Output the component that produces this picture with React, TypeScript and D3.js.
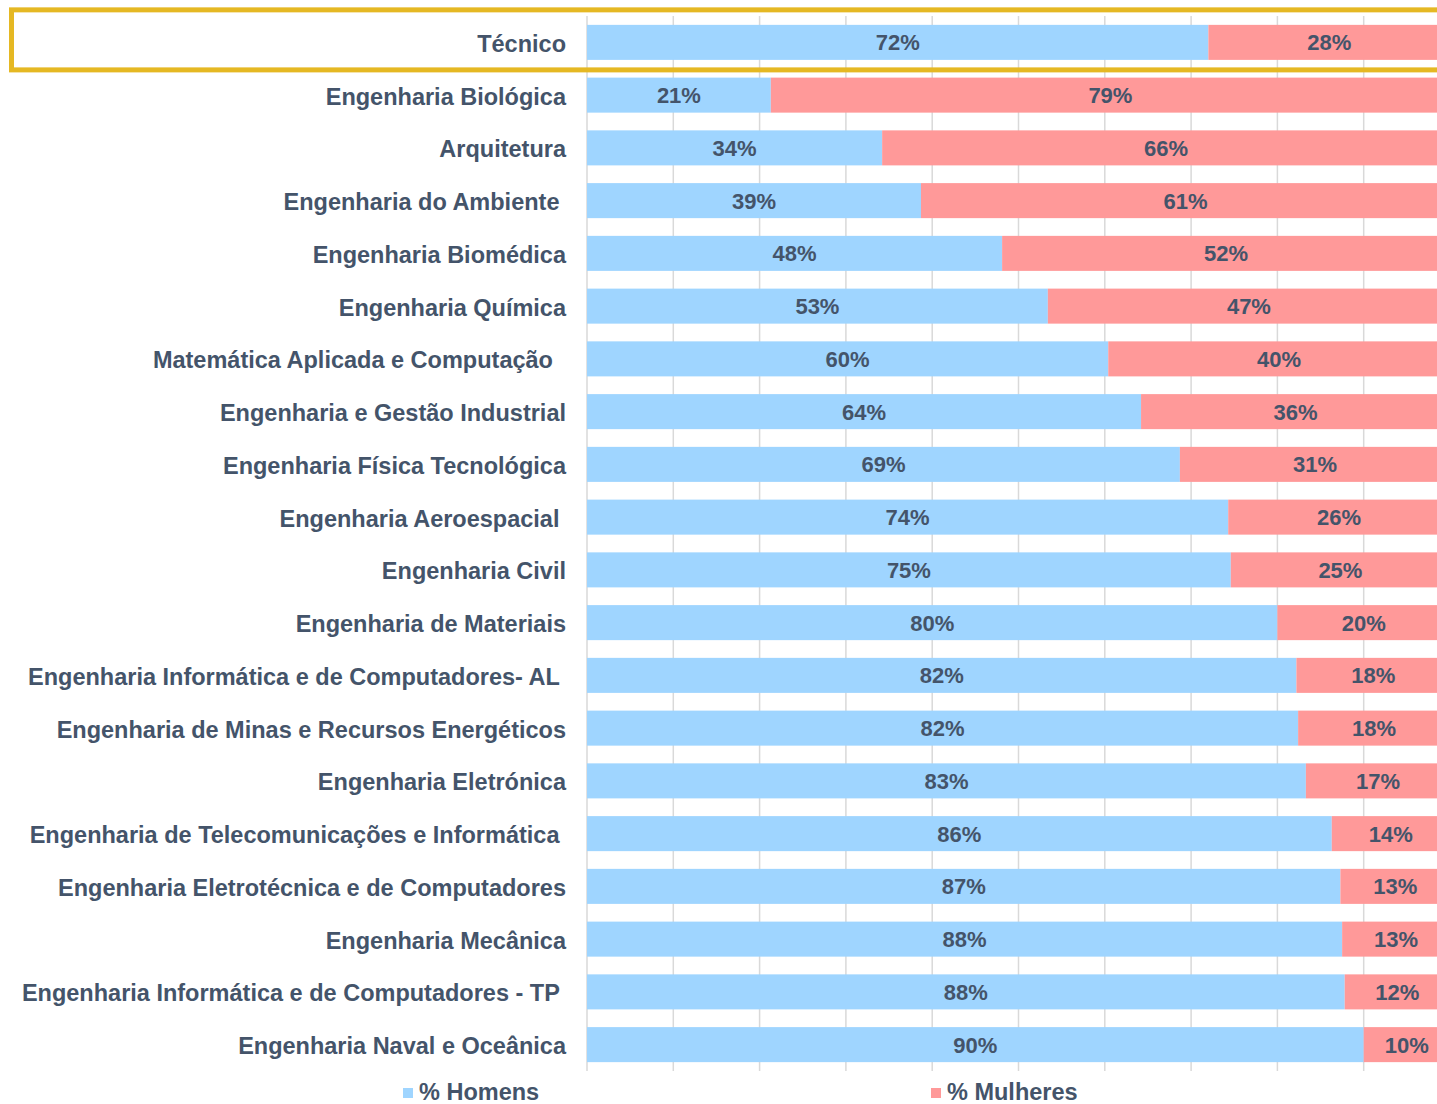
import React from 'react';
import * as d3 from 'd3';

// courses, top to bottom, as they appear on the chart
const cursos = [
  'Técnico',
  'Engenharia Biológica',
  'Arquitetura',
  'Engenharia do Ambiente ',
  'Engenharia Biomédica',
  'Engenharia Química',
  'Matemática Aplicada e Computação  ',
  'Engenharia e Gestão Industrial',
  'Engenharia Física Tecnológica',
  'Engenharia Aeroespacial ',
  'Engenharia Civil',
  'Engenharia de Materiais',
  'Engenharia Informática e de Computadores- AL ',
  'Engenharia de Minas e Recursos Energéticos',
  'Engenharia Eletrónica',
  'Engenharia de Telecomunicações e Informática ',
  'Engenharia Eletrotécnica e de Computadores',
  'Engenharia Mecânica',
  'Engenharia Informática e de Computadores - TP ',
  'Engenharia Naval e Oceânica',
];

// share of men / women per course
const homens = [0.72, 0.213, 0.342, 0.387, 0.481, 0.534, 0.604, 0.642, 0.687, 0.743,
  0.746, 0.8, 0.822, 0.824, 0.833, 0.863, 0.873, 0.875, 0.878, 0.9];
const mulheres = [0.28, 0.787, 0.658, 0.613, 0.519, 0.466, 0.396, 0.358, 0.313, 0.257,
  0.254, 0.2, 0.178, 0.176, 0.167, 0.137, 0.127, 0.125, 0.122, 0.1];

const series = ['% Homens', '% Mulheres'];
const gridTicks = [0, 0.1, 0.2, 0.3, 0.4, 0.5, 0.6, 0.7, 0.8, 0.9, 1];

const W = 1437;
const H = 1104;
const BLUE = '#9fd5ff';
const PINK = '#ff9999';
const TEXT = '#44546a';
const FONT = '"Liberation Sans", Arial, sans-serif';

export default function App() {
  const x = d3.scaleLinear().domain([0, 1]).range([587, 1450]);
  const y = d3
    .scaleBand<string>()
    .domain(cursos)
    .range([16, 1071])
    .paddingInner(0.336)
    .paddingOuter(0.168);

  const fmt = d3.format('.0%');
  const color = d3.scaleOrdinal<string, string>().domain(series).range([BLUE, PINK]);

  const rows = cursos.map((c, i) => ({ c, h: homens[i], m: mulheres[i] }));
  const first = y(cursos[0])!;

  return (
    <div style={{ position: 'absolute', left: 0, top: 0 }}>
      <svg width={W} height={H} style={{ display: 'block', fontFamily: FONT }}>
        <rect width={W} height={H} fill="#fff" />

        {/* vertical gridlines */}
        {gridTicks.map((t) => (
          <line
            key={t}
            x1={x(t)}
            x2={x(t)}
            y1={y.range()[0]}
            y2={y.range()[1]}
            stroke="#d9d9d9"
            strokeWidth={1.5}
          />
        ))}

        {rows.map((r) => {
          const yy = y(r.c)!;
          const bh = y.bandwidth();
          return (
            <g key={r.c}>
              <rect x={x(0)} y={yy} width={x(r.h) - x(0)} height={bh} fill={color(series[0])} />
              <rect x={x(r.h)} y={yy} width={x(r.h + r.m) - x(r.h)} height={bh} fill={color(series[1])} />
              <text
                x={x(r.h / 2)}
                y={yy + bh / 2}
                dy="0.36em"
                textAnchor="middle"
                fontSize={22}
                fontWeight="bold"
                fill={TEXT}
              >
                {fmt(r.h)}
              </text>
              <text
                x={x(r.h + r.m / 2)}
                y={yy + bh / 2}
                dy="0.36em"
                textAnchor="middle"
                fontSize={22}
                fontWeight="bold"
                fill={TEXT}
              >
                {fmt(r.m)}
              </text>
              <text
                x={566}
                y={yy + bh / 2 + 1}
                dy="0.36em"
                textAnchor="end"
                fontSize={23.5}
                fontWeight="bold"
                fill={TEXT}
                style={{ whiteSpace: 'pre' }}
              >
                {r.c}
              </text>
            </g>
          );
        })}

        {/* highlight box around the Técnico row */}
        <rect
          x={11.5}
          y={first - 15}
          width={1450}
          height={y.bandwidth() + 25}
          fill="none"
          stroke="#e5b823"
          strokeWidth={5}
        />

        {/* legend */}
        {series.map((s, i) => (
          <g key={s} transform={`translate(${i === 0 ? 403 : 931},1088)`}>
            <rect width={10} height={10} fill={color(s)} />
            <text x={16} y={4} dy="0.36em" fontSize={23.5} fontWeight="bold" fill={TEXT}>
              {s}
            </text>
          </g>
        ))}
      </svg>
    </div>
  );
}
